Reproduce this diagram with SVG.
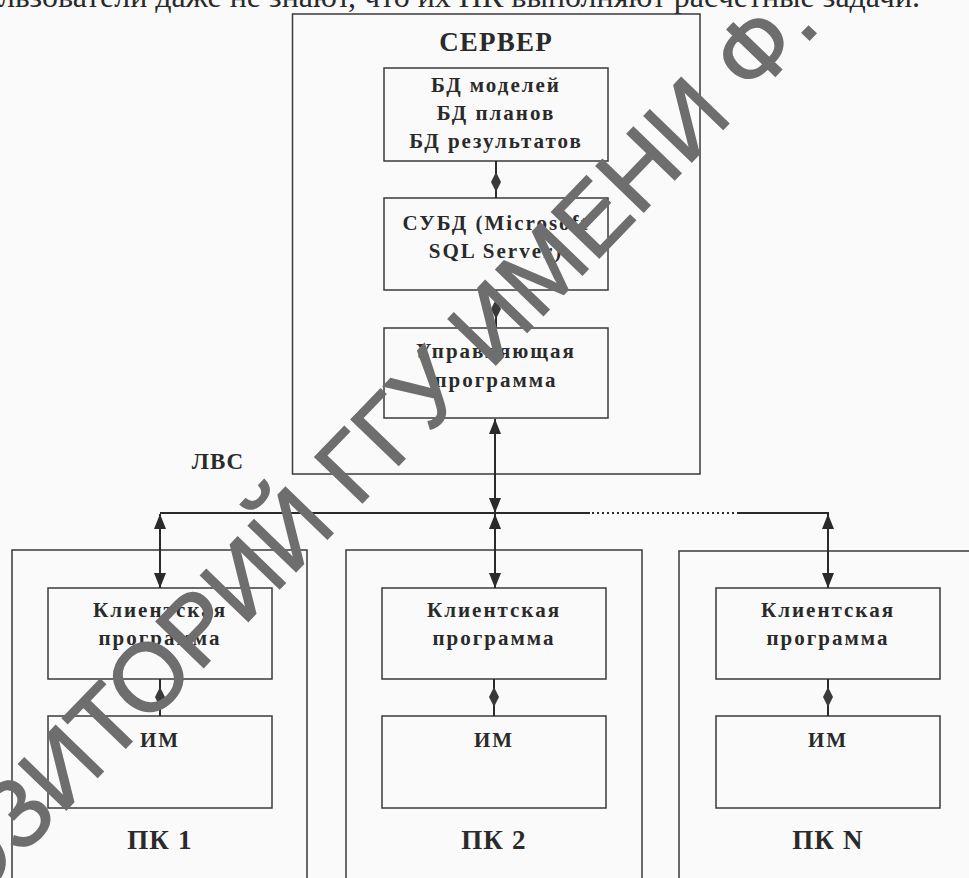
<svg xmlns="http://www.w3.org/2000/svg" width="969" height="878" viewBox="0 0 969 878">
<style>
.box{fill:none;stroke:#3a3a3a;stroke-width:1.5}
.t{font-family:"Liberation Serif","Times New Roman",serif;font-weight:bold;fill:#2a2a2a;text-anchor:middle;letter-spacing:1.2px}
.s{font-size:21px;letter-spacing:2px}
.b{font-size:27px}
.ln{fill:none;stroke:#2a2a2a;stroke-width:2}
.dot{fill:none;stroke:#2a2a2a;stroke-width:2;stroke-dasharray:2 3}
.wm{font-family:"Liberation Sans",Arial,sans-serif;font-size:96px;fill:#6e6e6e;stroke:#6e6e6e;stroke-width:1.5}
</style>
<defs>
<marker id="ah" markerUnits="userSpaceOnUse" viewBox="0 0 15 12" refX="15" refY="6" markerWidth="15" markerHeight="12" orient="auto-start-reverse">
<path d="M0,0 L15,6 L0,12 z" fill="#2a2a2a"/>
</marker>
<marker id="sh" markerUnits="userSpaceOnUse" viewBox="0 0 10 10" refX="10" refY="5" markerWidth="10" markerHeight="10" orient="auto">
<path d="M0,0 L10,5 L0,10 z" fill="#3a3a3a"/>
</marker>
</defs>
<rect width="969" height="878" fill="#fafafa"/>
<text x="920" y="7" font-family="'Liberation Serif','Times New Roman',serif" font-size="32" fill="#2a2a2a" text-anchor="end">пользователи даже не знают, что их ПК выполняют расчетные задачи.</text>

<g id="server">
<rect class="box" x="292.5" y="14" width="407.5" height="460"/>
<text class="t b" x="496" y="51">СЕРВЕР</text>
</g>
<g id="db">
<rect class="box" x="384" y="68" width="224" height="93"/>
<text class="t s" x="496" y="92">БД моделей</text>
<text class="t s" x="496" y="120">БД планов</text>
<text class="t s" x="496" y="148">БД результатов</text>
</g>
<g id="dbms">
<rect class="box" x="384" y="198" width="224" height="92"/>
<text class="t s" x="496" y="230">СУБД (Microsoft</text>
<text class="t s" x="496" y="258">SQL Server)</text>
</g>
<g id="control">
<rect class="box" x="384" y="328" width="224" height="90"/>
<text class="t s" x="496" y="358">Управляющая</text>
<text class="t s" x="496" y="387">программа</text>
</g>
<g id="lan">
<text class="t" x="218" y="469" font-size="23">ЛВС</text>
</g>

<g id="pc1">
<path class="box" d="M12,878 V550 H307 V878"/>
<rect class="box" x="48" y="588" width="224" height="91"/>
<text class="t s" x="160" y="617">Клиентская</text>
<text class="t s" x="160" y="645">программа</text>
<rect class="box" x="48" y="716" width="224" height="92"/>
<text class="t s" x="160" y="747">ИМ</text>
<text class="t b" x="160" y="849">ПК 1</text>
</g>
<g id="pc2">
<path class="box" d="M346,878 V550 H642 V878"/>
<rect class="box" x="382" y="588" width="224" height="91"/>
<text class="t s" x="494" y="617">Клиентская</text>
<text class="t s" x="494" y="645">программа</text>
<rect class="box" x="382" y="716" width="224" height="92"/>
<text class="t s" x="494" y="747">ИМ</text>
<text class="t b" x="494" y="849">ПК 2</text>
</g>
<g id="pcn">
<path class="box" d="M679,878 V551 H970"/>
<rect class="box" x="716" y="588" width="224" height="91"/>
<text class="t s" x="828" y="617">Клиентская</text>
<text class="t s" x="828" y="645">программа</text>
<rect class="box" x="716" y="716" width="224" height="92"/>
<text class="t s" x="828" y="747">ИМ</text>
<text class="t b" x="828" y="849">ПК N</text>
</g>

<g id="connectors">
<path class="ln" d="M160,513 H590"/>
<path class="dot" d="M592,513 H736"/>
<path class="ln" d="M737,513 H829"/>
<path class="ln" d="M495,419 V513" marker-start="url(#ah)" marker-end="url(#ah)"/>
<path class="ln" d="M495,514 V588" marker-start="url(#ah)" marker-end="url(#ah)"/>
<path class="ln" d="M160,514 V588" marker-start="url(#ah)" marker-end="url(#ah)"/>
<path class="ln" d="M828,514 V588" marker-start="url(#ah)" marker-end="url(#ah)"/>
<path class="ln" d="M496,161 V198 M496,290 V328 M160,679 V716 M494,679 V716 M828,679 V716" stroke-width="1.5"/>
<path class="ln" stroke-width="1.5" d="M496,182 V172" marker-end="url(#sh)"/>
<path class="ln" stroke-width="1.5" d="M496,182 V192" marker-end="url(#sh)"/>
<path class="ln" stroke-width="1.5" d="M496,309 V299" marker-end="url(#sh)"/>
<path class="ln" stroke-width="1.5" d="M496,309 V319" marker-end="url(#sh)"/>
<path class="ln" stroke-width="1.5" d="M160,697 V687" marker-end="url(#sh)"/>
<path class="ln" stroke-width="1.5" d="M160,697 V707" marker-end="url(#sh)"/>
<path class="ln" stroke-width="1.5" d="M494,697 V687" marker-end="url(#sh)"/>
<path class="ln" stroke-width="1.5" d="M494,697 V707" marker-end="url(#sh)"/>
<path class="ln" stroke-width="1.5" d="M828,697 V687" marker-end="url(#sh)"/>
<path class="ln" stroke-width="1.5" d="M828,697 V707" marker-end="url(#sh)"/>
</g>

<text class="wm" x="822" y="27" text-anchor="end" transform="rotate(-46 822 27)">РЕПОЗИТОРИЙ ГГУ ИМЕНИ Ф.</text>
</svg>
